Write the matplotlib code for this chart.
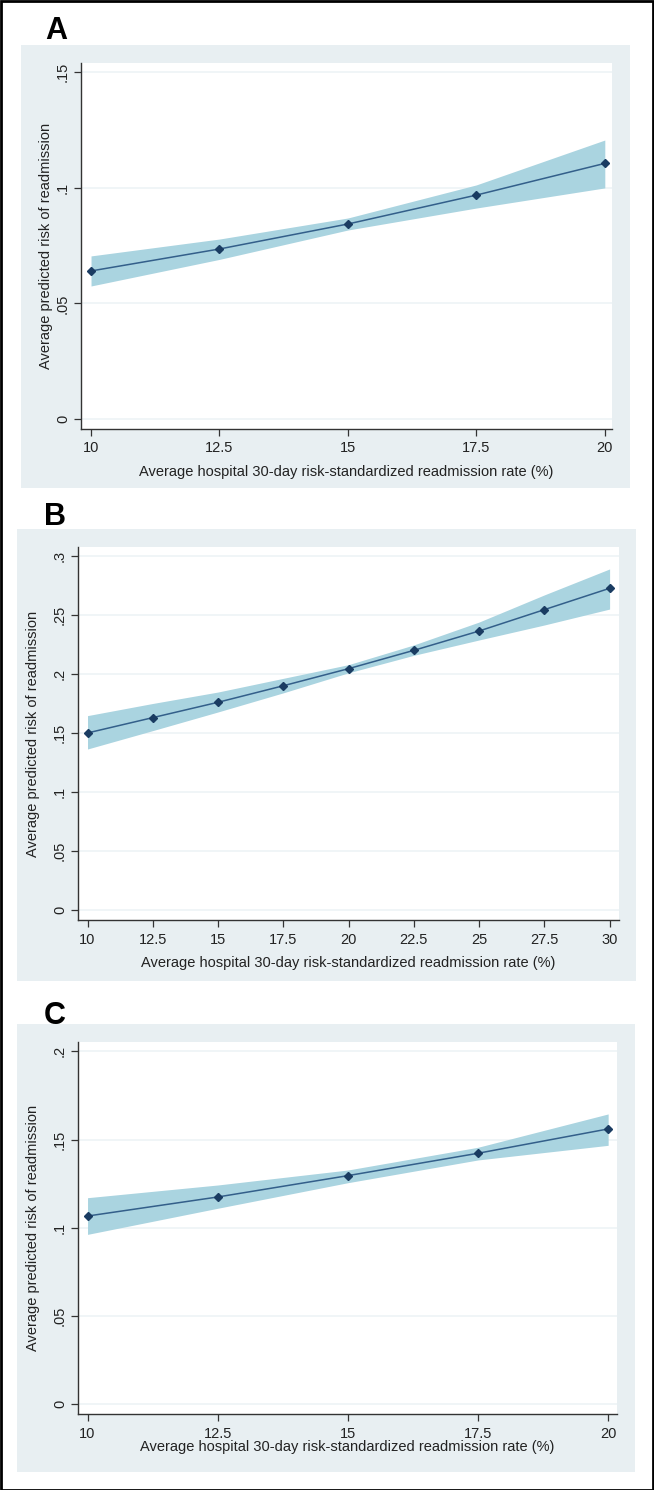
import matplotlib
matplotlib.use("Agg")
import matplotlib.pyplot as plt
from matplotlib.patches import Rectangle

plt.rcParams['font.family'] = ['Liberation Sans', 'DejaVu Sans']

# ---------------- data ----------------
xA = [10, 12.5, 15, 17.5, 20]
yA = [0.064, 0.0735, 0.0843, 0.0968, 0.1105]
loA = [0.0575, 0.069, 0.0817, 0.0912, 0.0999]
hiA = [0.0705, 0.0778, 0.0869, 0.1012, 0.1206]

xB = [10, 12.5, 15, 17.5, 20, 22.5, 25, 27.5, 30]
yB = [0.150, 0.163, 0.176, 0.190, 0.2045, 0.220, 0.2364, 0.2545, 0.2726]
loB = [0.1364, 0.152, 0.1678, 0.184, 0.201, 0.2158, 0.2288, 0.2415, 0.255]
hiB = [0.1647, 0.175, 0.1847, 0.1963, 0.2079, 0.2246, 0.244, 0.267, 0.289]

xC = [10, 12.5, 15, 17.5, 20]
yC = [0.1066, 0.1174, 0.1295, 0.1422, 0.156]
loC = [0.0962, 0.111, 0.1255, 0.1384, 0.1467]
hiC = [0.117, 0.1242, 0.1327, 0.1456, 0.1645]

xticksA = [10, 12.5, 15, 17.5, 20]
xticksB = [10, 12.5, 15, 17.5, 20, 22.5, 25, 27.5, 30]
xticksC = [10, 12.5, 15, 17.5, 20]
yticksA = [0, 0.05, 0.1, 0.15]
yticksB = [0, 0.05, 0.1, 0.15, 0.2, 0.25, 0.3]
yticksC = [0, 0.05, 0.1, 0.15, 0.2]
ylabelsA = ["0", ".05", ".1", ".15"]
ylabelsB = ["0", ".05", ".1", ".15", ".2", ".25", ".3"]
ylabelsC = ["0", ".05", ".1", ".15", ".2"]
panel_letters = ["A", "B", "C"]
xlabel = "Average hospital 30-day risk-standardized readmission rate (%)"
ylabel = "Average predicted risk of readmission"

# ---------------- layout ----------------
W, H = 654, 1490
fig = plt.figure(figsize=(W / 100, H / 100), dpi=100)
fig.patch.set_facecolor('white')

BG = '#e8eff2'
FILL = '#aad4e0'
LINE = '#335f8a'
MARK = '#1a3c62'
GRID = '#eef4f6'


def fig_rect(x0, y0, x1, y1):
    # pixel coords (y from top) -> figure fraction
    return [x0 / W, 1 - y1 / H, (x1 - x0) / W, (y1 - y0) / H]


panels = [
    dict(bg=(21, 45, 630, 488), ax=(81, 63, 612, 429), letter=(45, 39),
         x=xA, y=yA, lo=loA, hi=hiA, xt=xticksA, yt=yticksA, yl=ylabelsA,
         xlim=(9.805, 20.14), ylim=(-0.00432, 0.1539),
         ylab_x=46, xlab_y=472),
    dict(bg=(17, 529, 636, 981), ax=(78, 547, 619, 920), letter=(44, 525),
         x=xB, y=yB, lo=loB, hi=hiB, xt=xticksB, yt=yticksB, yl=ylabelsB,
         xlim=(9.636, 30.36), ylim=(-0.0085, 0.3076),
         ylab_x=33, xlab_y=963),
    dict(bg=(17, 1024, 635, 1472), ax=(78, 1042, 617, 1414), letter=(44, 1024),
         x=xC, y=yC, lo=loC, hi=hiC, xt=xticksC, yt=yticksC, yl=ylabelsC,
         xlim=(9.817, 20.17), ylim=(-0.00567, 0.2053),
         ylab_x=33, xlab_y=1447),
]

for i, p in enumerate(panels):
    # panel background as its own axes, drawn below the plot axes
    bgax = fig.add_axes(fig_rect(*p['bg']), zorder=-5)
    bgax.set_facecolor(BG)
    bgax.set_xticks([])
    bgax.set_yticks([])
    for s in bgax.spines.values():
        s.set_visible(False)

    lx, ly = p['letter']
    fig.text(lx / W, 1 - ly / H, panel_letters[i], fontsize=22, fontweight='bold',
             ha='left', va='baseline', color='black')

    ax = fig.add_axes(fig_rect(*p['ax']), zorder=1)
    ax.set_facecolor('white')
    ax.fill_between(p['x'], p['lo'], p['hi'], color=FILL, linewidth=0, zorder=2)
    ax.plot(p['x'], p['y'], color=LINE, linewidth=1.1, zorder=3)
    ax.plot(p['x'], p['y'], linestyle='none', marker='D', markersize=4.2,
            color=MARK, zorder=4)
    ax.set_xlim(*p['xlim'])
    ax.set_ylim(*p['ylim'])
    ax.set_xticks(p['xt'])
    ax.set_xticklabels([f"{v:g}" for v in p['xt']])
    ax.set_yticks(p['yt'])
    ax.set_yticklabels(p['yl'], rotation=90, va='center')
    ax.grid(axis='y', color=GRID, linewidth=1.2, zorder=1)
    ax.set_axisbelow(True)
    for s in ['top', 'right']:
        ax.spines[s].set_visible(False)
    for s in ['left', 'bottom']:
        ax.spines[s].set_color('#333333')
        ax.spines[s].set_linewidth(1.0)
    ax.tick_params(axis='both', direction='out', length=5, width=0.9,
                   color='#333333', labelsize=10.5, labelcolor='#222222')
    ax.tick_params(axis='x', pad=4)
    ax.tick_params(axis='y', pad=3)

    axx0, axy0, axx1, axy1 = p['ax']
    fig.text((axx0 + axx1) / 2 / W, 1 - p['xlab_y'] / H, xlabel, fontsize=10.5,
             ha='center', va='center', color='#222222', zorder=3)
    fig.text(p['ylab_x'] / W, 1 - (axy0 + axy1) / 2 / H, ylabel, fontsize=10.5,
             ha='center', va='center', rotation=90, color='#222222', zorder=3)

# outer border
fig.patches.append(Rectangle((0.5 / W, 0.5 / H), 1 - 1.5 / W, 1 - 1.5 / H,
                             transform=fig.transFigure, facecolor='none',
                             edgecolor='black', linewidth=2, zorder=10))

fig.savefig('out.png', dpi=100, facecolor='white')
